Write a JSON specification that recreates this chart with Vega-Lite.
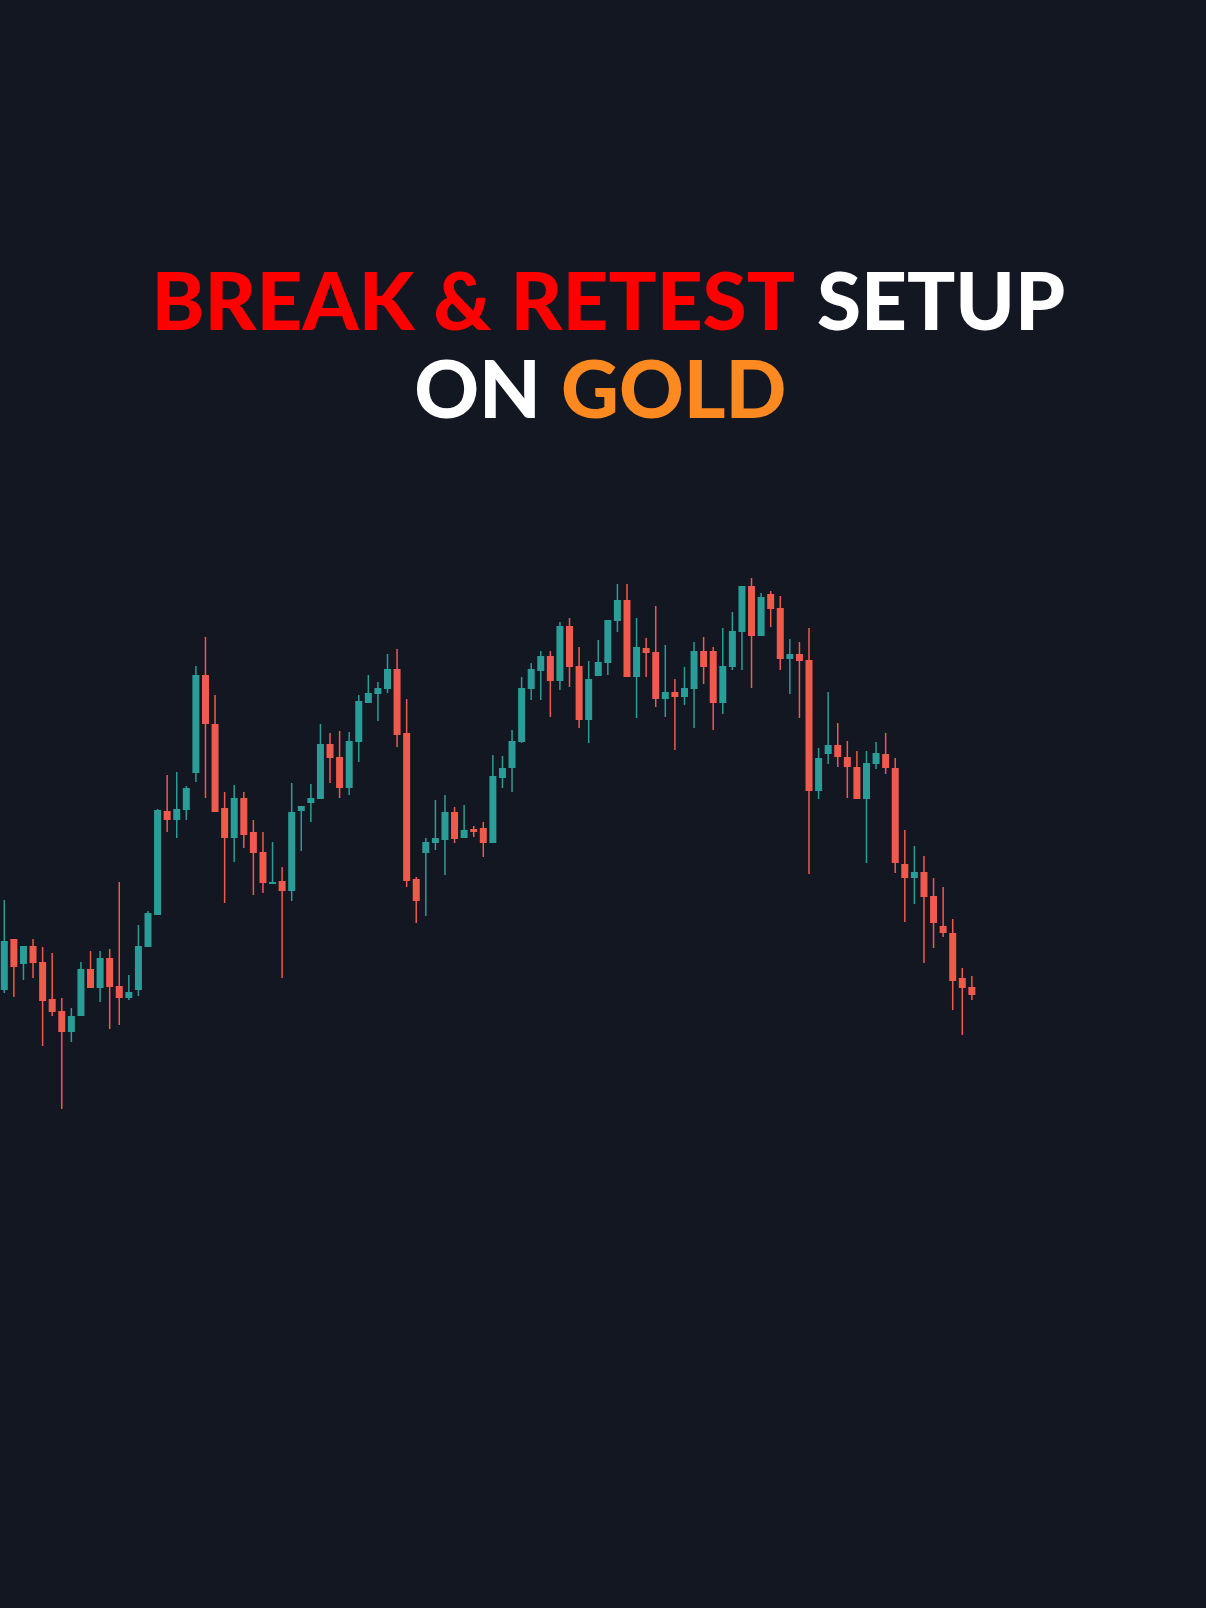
{
 "$schema": "https://vega.github.io/schema/vega-lite/v6.json",
 "width": 1206, "height": 1608,
 "autosize": {"type": "fit", "contains": "padding"},
 "padding": 0,
 "background": "#131722",
 "config": {"view": {"stroke": null}},
 "datasets": {
  "candles": [
   {"i":1,"o":2010,"h":2100,"l":2007,"c":2059},
   {"i":2,"o":2061,"h":2061,"l":2003,"c":2033},
   {"i":3,"o":2036,"h":2054,"l":2020,"c":2054},
   {"i":4,"o":2054,"h":2061,"l":2022,"c":2037},
   {"i":5,"o":2038,"h":2053,"l":1954,"c":1999},
   {"i":6,"o":2001,"h":2047,"l":1984,"c":1988},
   {"i":7,"o":1989,"h":2002,"l":1891,"c":1968},
   {"i":8,"o":1968,"h":1992,"l":1958,"c":1984},
   {"i":9,"o":1984,"h":2038,"l":1984,"c":2031},
   {"i":10,"o":2031,"h":2049,"l":2012,"c":2012},
   {"i":11,"o":2012,"h":2049,"l":1998,"c":2042},
   {"i":12,"o":2042,"h":2051,"l":1971,"c":2013},
   {"i":13,"o":2014,"h":2118,"l":1975,"c":2002},
   {"i":14,"o":2002,"h":2025,"l":2000,"c":2008},
   {"i":15,"o":2010,"h":2075,"l":2004,"c":2054},
   {"i":16,"o":2053,"h":2089,"l":2053,"c":2087},
   {"i":17,"o":2085,"h":2191,"l":2085,"c":2190},
   {"i":18,"o":2189,"h":2225,"l":2168,"c":2180},
   {"i":19,"o":2180,"h":2228,"l":2162,"c":2191},
   {"i":20,"o":2190,"h":2214,"l":2180,"c":2212},
   {"i":21,"o":2227,"h":2334,"l":2218,"c":2325},
   {"i":22,"o":2325,"h":2363,"l":2202,"c":2276},
   {"i":23,"o":2276,"h":2305,"l":2188,"c":2188},
   {"i":24,"o":2192,"h":2208,"l":2097,"c":2162},
   {"i":25,"o":2162,"h":2215,"l":2138,"c":2202},
   {"i":26,"o":2202,"h":2208,"l":2152,"c":2165},
   {"i":27,"o":2168,"h":2180,"l":2105,"c":2147},
   {"i":28,"o":2148,"h":2168,"l":2107,"c":2117},
   {"i":29,"o":2116,"h":2158,"l":2116,"c":2118},
   {"i":30,"o":2119,"h":2133,"l":2022,"c":2109},
   {"i":31,"o":2109,"h":2217,"l":2099,"c":2188},
   {"i":32,"o":2189,"h":2194,"l":2149,"c":2194},
   {"i":33,"o":2197,"h":2216,"l":2178,"c":2202},
   {"i":34,"o":2201,"h":2276,"l":2201,"c":2256},
   {"i":35,"o":2256,"h":2267,"l":2217,"c":2242},
   {"i":36,"o":2243,"h":2269,"l":2202,"c":2212},
   {"i":37,"o":2212,"h":2268,"l":2205,"c":2259},
   {"i":38,"o":2258,"h":2305,"l":2238,"c":2299},
   {"i":39,"o":2297,"h":2325,"l":2297,"c":2307},
   {"i":40,"o":2306,"h":2318,"l":2279,"c":2312},
   {"i":41,"o":2311,"h":2346,"l":2307,"c":2331},
   {"i":42,"o":2331,"h":2351,"l":2253,"c":2265},
   {"i":43,"o":2267,"h":2301,"l":2113,"c":2119},
   {"i":44,"o":2121,"h":2123,"l":2077,"c":2099},
   {"i":45,"o":2147,"h":2162,"l":2084,"c":2158},
   {"i":46,"o":2157,"h":2200,"l":2150,"c":2162},
   {"i":47,"o":2160,"h":2205,"l":2125,"c":2188},
   {"i":48,"o":2188,"h":2193,"l":2157,"c":2161},
   {"i":49,"o":2162,"h":2195,"l":2162,"c":2170},
   {"i":50,"o":2171,"h":2174,"l":2163,"c":2168},
   {"i":51,"o":2172,"h":2178,"l":2143,"c":2157},
   {"i":52,"o":2157,"h":2245,"l":2157,"c":2224},
   {"i":53,"o":2222,"h":2244,"l":2212,"c":2232},
   {"i":54,"o":2232,"h":2270,"l":2208,"c":2259},
   {"i":55,"o":2258,"h":2323,"l":2257,"c":2312},
   {"i":56,"o":2311,"h":2337,"l":2300,"c":2331},
   {"i":57,"o":2329,"h":2349,"l":2300,"c":2344},
   {"i":58,"o":2344,"h":2349,"l":2283,"c":2319},
   {"i":59,"o":2319,"h":2378,"l":2310,"c":2374},
   {"i":60,"o":2374,"h":2382,"l":2313,"c":2333},
   {"i":61,"o":2334,"h":2353,"l":2272,"c":2280},
   {"i":62,"o":2280,"h":2339,"l":2257,"c":2321},
   {"i":63,"o":2324,"h":2360,"l":2324,"c":2338},
   {"i":64,"o":2337,"h":2380,"l":2325,"c":2380},
   {"i":65,"o":2379,"h":2416,"l":2368,"c":2400},
   {"i":66,"o":2400,"h":2416,"l":2323,"c":2323},
   {"i":67,"o":2323,"h":2382,"l":2282,"c":2353},
   {"i":68,"o":2352,"h":2362,"l":2323,"c":2347},
   {"i":69,"o":2348,"h":2394,"l":2293,"c":2301},
   {"i":70,"o":2301,"h":2355,"l":2283,"c":2308},
   {"i":71,"o":2308,"h":2321,"l":2250,"c":2303},
   {"i":72,"o":2303,"h":2333,"l":2295,"c":2312},
   {"i":73,"o":2311,"h":2358,"l":2272,"c":2349},
   {"i":74,"o":2349,"h":2363,"l":2316,"c":2333},
   {"i":75,"o":2349,"h":2353,"l":2270,"c":2297},
   {"i":76,"o":2297,"h":2372,"l":2286,"c":2334},
   {"i":77,"o":2333,"h":2388,"l":2330,"c":2369},
   {"i":78,"o":2368,"h":2414,"l":2330,"c":2414},
   {"i":79,"o":2414,"h":2422,"l":2312,"c":2364},
   {"i":80,"o":2364,"h":2407,"l":2364,"c":2403},
   {"i":81,"o":2406,"h":2409,"l":2373,"c":2391},
   {"i":82,"o":2392,"h":2404,"l":2330,"c":2341},
   {"i":83,"o":2341,"h":2361,"l":2306,"c":2346},
   {"i":84,"o":2346,"h":2358,"l":2282,"c":2339},
   {"i":85,"o":2340,"h":2372,"l":2126,"c":2209},
   {"i":86,"o":2209,"h":2252,"l":2201,"c":2242},
   {"i":87,"o":2246,"h":2308,"l":2236,"c":2255},
   {"i":88,"o":2255,"h":2277,"l":2233,"c":2243},
   {"i":89,"o":2243,"h":2259,"l":2202,"c":2233},
   {"i":90,"o":2233,"h":2249,"l":2201,"c":2201},
   {"i":91,"o":2201,"h":2249,"l":2137,"c":2237},
   {"i":92,"o":2236,"h":2258,"l":2231,"c":2247},
   {"i":93,"o":2246,"h":2267,"l":2226,"c":2232},
   {"i":94,"o":2232,"h":2242,"l":2127,"c":2137},
   {"i":95,"o":2136,"h":2170,"l":2078,"c":2122},
   {"i":96,"o":2122,"h":2154,"l":2096,"c":2128},
   {"i":97,"o":2128,"h":2144,"l":2037,"c":2103},
   {"i":98,"o":2104,"h":2122,"l":2052,"c":2077},
   {"i":99,"o":2074,"h":2113,"l":2063,"c":2067},
   {"i":100,"o":2067,"h":2081,"l":1990,"c":2019},
   {"i":101,"o":2022,"h":2032,"l":1965,"c":2012},
   {"i":102,"o":2013,"h":2024,"l":2000,"c":2005}
  ]
 },
 "layer": [
  {
   "data": {"name": "candles"},
   "mark": {"type": "rule", "strokeWidth": 1.5},
   "encoding": {
    "x": {"field": "i", "type": "quantitative", "scale": {"domain": [0.551, 126.44], "nice": false, "zero": false, "padding": 0}, "axis": null},
    "y": {"field": "l", "type": "quantitative", "scale": {"domain": [1392, 3000], "nice": false, "zero": false, "padding": 0}, "axis": null},
    "y2": {"field": "h"},
    "color": {"condition": {"test": "datum.c >= datum.o", "value": "#2a9d98"}, "value": "#f05a4c"}
   }
  },
  {
   "data": {"name": "candles"},
   "mark": {"type": "bar", "width": 7},
   "encoding": {
    "x": {"field": "i", "type": "quantitative"},
    "y": {"field": "o", "type": "quantitative"},
    "y2": {"field": "c"},
    "color": {"condition": {"test": "datum.c >= datum.o", "value": "#2a9d98"}, "value": "#f05a4c"}
   }
  },
  {
   "data": {"values": [{"label": "BREAK & RETEST"}]},
   "mark": {"type": "text", "font": "Lato", "fontWeight": 900, "fontSize": 80, "align": "right", "baseline": "alphabetic", "color": "#fe0000"},
   "encoding": {"text": {"field": "label"}, "x": {"datum": 83.54}, "y": {"datum": 2670}}
  },
  {
   "data": {"values": [{"label": "SETUP"}]},
   "mark": {"type": "text", "font": "Lato", "fontWeight": 900, "fontSize": 80, "align": "left", "baseline": "alphabetic", "color": "#ffffff"},
   "encoding": {"text": {"field": "label"}, "x": {"datum": 85.83}, "y": {"datum": 2670}}
  },
  {
   "data": {"values": [{"label": "ON"}]},
   "mark": {"type": "text", "font": "Lato", "fontWeight": 900, "fontSize": 80, "align": "right", "baseline": "alphabetic", "color": "#ffffff"},
   "encoding": {"text": {"field": "label"}, "x": {"datum": 57.02}, "y": {"datum": 2582}}
  },
  {
   "data": {"values": [{"label": "GOLD"}]},
   "mark": {"type": "text", "font": "Lato", "fontWeight": 900, "fontSize": 80, "align": "left", "baseline": "alphabetic", "color": "#fd8a20"},
   "encoding": {"text": {"field": "label"}, "x": {"datum": 59.11}, "y": {"datum": 2582}}
  }
 ]
}
